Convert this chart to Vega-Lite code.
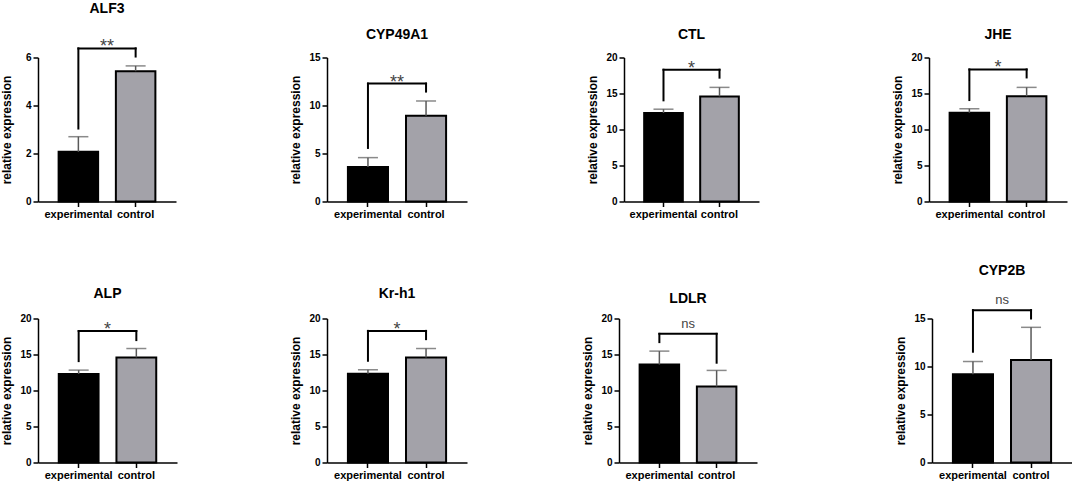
{
  "$schema": "https://vega.github.io/schema/vega-lite/v6.json",
  "padding": {"left": 0, "top": 1.5, "right": 0, "bottom": 0},
  "config": {
    "view": {"stroke": null},
    "font": "Liberation Sans",
    "axis": {"grid": false, "domainColor": "black", "domainWidth": 1.5, "tickColor": "black", "tickWidth": 1.5, "tickSize": 5, "labelColor": "black", "labelFont": "Liberation Sans", "labelFontWeight": "bold", "titleColor": "black", "titleFont": "Liberation Sans", "titleFontWeight": "bold", "titleFontSize": 12},
    "axisX": {"labelFontSize": 11, "labelAngle": 0, "labelPadding": 2},
    "axisY": {"labelFontSize": 10, "labelPadding": 2, "labelOverlap": false},
    "title": {"font": "Liberation Sans", "fontSize": 14, "fontWeight": "bold", "color": "black", "frame": "group", "anchor": "middle"}
  },
  "datasets": {
    "bars": [
      {"gene": "ALF3", "group": "experimental", "mean": 2.07, "upper": 2.7},
      {"gene": "ALF3", "group": "control", "mean": 5.43, "upper": 5.65},
      {"gene": "CYP49A1", "group": "experimental", "mean": 3.6, "upper": 4.57},
      {"gene": "CYP49A1", "group": "control", "mean": 8.92, "upper": 10.47},
      {"gene": "CTL", "group": "experimental", "mean": 12.3, "upper": 12.82},
      {"gene": "CTL", "group": "control", "mean": 14.6, "upper": 15.85},
      {"gene": "JHE", "group": "experimental", "mean": 12.33, "upper": 12.88},
      {"gene": "JHE", "group": "control", "mean": 14.62, "upper": 15.85},
      {"gene": "ALP", "group": "experimental", "mean": 12.3, "upper": 12.83},
      {"gene": "ALP", "group": "control", "mean": 14.6, "upper": 15.83},
      {"gene": "Kr-h1", "group": "experimental", "mean": 12.33, "upper": 12.88},
      {"gene": "Kr-h1", "group": "control", "mean": 14.59, "upper": 15.83},
      {"gene": "LDLR", "group": "experimental", "mean": 13.6, "upper": 15.47},
      {"gene": "LDLR", "group": "control", "mean": 10.57, "upper": 12.79},
      {"gene": "CYP2B", "group": "experimental", "mean": 9.2, "upper": 10.52},
      {"gene": "CYP2B", "group": "control", "mean": 10.68, "upper": 14.08}
    ],
    "legs": [
      {"gene": "ALF3", "group": "experimental", "low": 3.04, "high": 6.38},
      {"gene": "ALF3", "group": "control", "low": 6.04, "high": 6.38},
      {"gene": "CYP49A1", "group": "experimental", "low": 5.58, "high": 12.28},
      {"gene": "CYP49A1", "group": "control", "low": 11.45, "high": 12.28},
      {"gene": "CTL", "group": "experimental", "low": 14.05, "high": 18.3},
      {"gene": "CTL", "group": "control", "low": 17.2, "high": 18.3},
      {"gene": "JHE", "group": "experimental", "low": 14.09, "high": 18.34},
      {"gene": "JHE", "group": "control", "low": 17.23, "high": 18.34},
      {"gene": "ALP", "group": "experimental", "low": 14.08, "high": 18.25},
      {"gene": "ALP", "group": "control", "low": 17.0, "high": 18.25},
      {"gene": "Kr-h1", "group": "experimental", "low": 14.13, "high": 18.28},
      {"gene": "Kr-h1", "group": "control", "low": 17.13, "high": 18.28},
      {"gene": "LDLR", "group": "experimental", "low": 16.72, "high": 17.87},
      {"gene": "LDLR", "group": "control", "low": 13.86, "high": 17.87},
      {"gene": "CYP2B", "group": "experimental", "low": 11.54, "high": 15.87},
      {"gene": "CYP2B", "group": "control", "low": 15.0, "high": 15.87}
    ],
    "brackets": [
      {"gene": "ALF3", "left": "experimental", "right": "control", "high": 6.38, "label": "**"},
      {"gene": "CYP49A1", "left": "experimental", "right": "control", "high": 12.28, "label": "**"},
      {"gene": "CTL", "left": "experimental", "right": "control", "high": 18.3, "label": "*"},
      {"gene": "JHE", "left": "experimental", "right": "control", "high": 18.34, "label": "*"},
      {"gene": "ALP", "left": "experimental", "right": "control", "high": 18.25, "label": "*"},
      {"gene": "Kr-h1", "left": "experimental", "right": "control", "high": 18.28, "label": "*"},
      {"gene": "LDLR", "left": "experimental", "right": "control", "high": 17.87, "label": "ns"},
      {"gene": "CYP2B", "left": "experimental", "right": "control", "high": 15.87, "label": "ns"}
    ]
  },
  "spacing": 44,
  "vconcat": [
    {
      "spacing": 113,
      "hconcat": [
        {
          "width": 138, "height": 144,
          "title": {"text": "ALF3", "offset": 22},
          "layer": [
            {"data": {"name": "bars"}, "transform": [{"filter": "datum.gene === 'ALF3'"}], "mark": {"type": "bar", "stroke": "black", "strokeWidth": 2}, "encoding": {"x": {"field": "group", "type": "nominal", "sort": null, "scale": {"domain": ["experimental", "control"], "paddingInner": 0.31, "paddingOuter": 0.36}, "axis": {"title": null}}, "y": {"field": "mean", "type": "quantitative", "scale": {"domain": [0, 6], "nice": false}, "axis": {"title": "relative expression", "values": [0, 2, 4, 6], "titlePadding": 12}}, "color": {"field": "group", "type": "nominal", "scale": {"domain": ["experimental", "control"], "range": ["#000000", "#a3a2a9"]}, "legend": null}}},
            {"data": {"name": "bars"}, "transform": [{"filter": "datum.gene === 'ALF3'"}], "mark": {"type": "rule", "color": "#595959", "strokeWidth": 1.5}, "encoding": {"x": {"field": "group", "type": "nominal"}, "y": {"field": "mean", "type": "quantitative", "axis": {"title": "relative expression", "values": [0, 2, 4, 6], "titlePadding": 12}}, "y2": {"field": "upper"}}},
            {"data": {"name": "bars"}, "transform": [{"filter": "datum.gene === 'ALF3'"}], "mark": {"type": "tick", "color": "#595959", "size": 20, "thickness": 1.5}, "encoding": {"x": {"field": "group", "type": "nominal"}, "y": {"field": "upper", "type": "quantitative", "axis": {"title": "relative expression", "values": [0, 2, 4, 6], "titlePadding": 12}}}},
            {"data": {"name": "legs"}, "transform": [{"filter": "datum.gene === 'ALF3'"}], "mark": {"type": "rule", "color": "black", "strokeWidth": 2, "strokeCap": "square"}, "encoding": {"x": {"field": "group", "type": "nominal"}, "y": {"field": "low", "type": "quantitative", "axis": {"title": "relative expression", "values": [0, 2, 4, 6], "titlePadding": 12}}, "y2": {"field": "high"}}},
            {"data": {"name": "brackets"}, "transform": [{"filter": "datum.gene === 'ALF3'"}], "mark": {"type": "rule", "color": "black", "strokeWidth": 2, "strokeCap": "square"}, "encoding": {"x": {"field": "left", "type": "nominal"}, "x2": {"field": "right"}, "y": {"field": "high", "type": "quantitative", "axis": {"title": "relative expression", "values": [0, 2, 4, 6], "titlePadding": 12}}}},
            {"data": {"name": "brackets"}, "transform": [{"filter": "datum.gene === 'ALF3'"}], "mark": {"type": "text", "fontSize": 18, "color": "#444444", "baseline": "alphabetic", "dy": 4}, "encoding": {"x": {"field": "left", "type": "nominal", "bandPosition": 1.225}, "y": {"field": "high", "type": "quantitative", "axis": {"title": "relative expression", "values": [0, 2, 4, 6], "titlePadding": 12}}, "text": {"field": "label"}}}
          ]
        },
        {
          "spacing": 119,
          "hconcat": [
            {
              "width": 140, "height": 144,
              "title": {"text": "CYP49A1", "offset": 11},
              "layer": [
                {"data": {"name": "bars"}, "transform": [{"filter": "datum.gene === 'CYP49A1'"}], "mark": {"type": "bar", "stroke": "black", "strokeWidth": 2}, "encoding": {"x": {"field": "group", "type": "nominal", "sort": null, "scale": {"domain": ["experimental", "control"], "paddingInner": 0.31, "paddingOuter": 0.36}, "axis": {"title": null}}, "y": {"field": "mean", "type": "quantitative", "scale": {"domain": [0, 15], "nice": false}, "axis": {"title": "relative expression", "values": [0, 5, 10, 15], "titlePadding": 6.4}}, "color": {"field": "group", "type": "nominal", "scale": {"domain": ["experimental", "control"], "range": ["#000000", "#a3a2a9"]}, "legend": null}}},
                {"data": {"name": "bars"}, "transform": [{"filter": "datum.gene === 'CYP49A1'"}], "mark": {"type": "rule", "color": "#595959", "strokeWidth": 1.5}, "encoding": {"x": {"field": "group", "type": "nominal"}, "y": {"field": "mean", "type": "quantitative", "axis": {"title": "relative expression", "values": [0, 5, 10, 15], "titlePadding": 6.4}}, "y2": {"field": "upper"}}},
                {"data": {"name": "bars"}, "transform": [{"filter": "datum.gene === 'CYP49A1'"}], "mark": {"type": "tick", "color": "#595959", "size": 20, "thickness": 1.5}, "encoding": {"x": {"field": "group", "type": "nominal"}, "y": {"field": "upper", "type": "quantitative", "axis": {"title": "relative expression", "values": [0, 5, 10, 15], "titlePadding": 6.4}}}},
                {"data": {"name": "legs"}, "transform": [{"filter": "datum.gene === 'CYP49A1'"}], "mark": {"type": "rule", "color": "black", "strokeWidth": 2, "strokeCap": "square"}, "encoding": {"x": {"field": "group", "type": "nominal"}, "y": {"field": "low", "type": "quantitative", "axis": {"title": "relative expression", "values": [0, 5, 10, 15], "titlePadding": 6.4}}, "y2": {"field": "high"}}},
                {"data": {"name": "brackets"}, "transform": [{"filter": "datum.gene === 'CYP49A1'"}], "mark": {"type": "rule", "color": "black", "strokeWidth": 2, "strokeCap": "square"}, "encoding": {"x": {"field": "left", "type": "nominal"}, "x2": {"field": "right"}, "y": {"field": "high", "type": "quantitative", "axis": {"title": "relative expression", "values": [0, 5, 10, 15], "titlePadding": 6.4}}}},
                {"data": {"name": "brackets"}, "transform": [{"filter": "datum.gene === 'CYP49A1'"}], "mark": {"type": "text", "fontSize": 18, "color": "#444444", "baseline": "alphabetic", "dy": 4}, "encoding": {"x": {"field": "left", "type": "nominal", "bandPosition": 1.225}, "y": {"field": "high", "type": "quantitative", "axis": {"title": "relative expression", "values": [0, 5, 10, 15], "titlePadding": 6.4}}, "text": {"field": "label"}}}
              ]
            },
            {
              "spacing": 132,
              "hconcat": [
                {
                  "width": 135, "height": 144,
                  "title": {"text": "CTL", "offset": 11},
                  "layer": [
                    {"data": {"name": "bars"}, "transform": [{"filter": "datum.gene === 'CTL'"}], "mark": {"type": "bar", "stroke": "black", "strokeWidth": 2}, "encoding": {"x": {"field": "group", "type": "nominal", "sort": null, "scale": {"domain": ["experimental", "control"], "paddingInner": 0.31, "paddingOuter": 0.36}, "axis": {"title": null}}, "y": {"field": "mean", "type": "quantitative", "scale": {"domain": [0, 20], "nice": false}, "axis": {"title": "relative expression", "values": [0, 5, 10, 15, 20], "titlePadding": 6.4}}, "color": {"field": "group", "type": "nominal", "scale": {"domain": ["experimental", "control"], "range": ["#000000", "#a3a2a9"]}, "legend": null}}},
                    {"data": {"name": "bars"}, "transform": [{"filter": "datum.gene === 'CTL'"}], "mark": {"type": "rule", "color": "#595959", "strokeWidth": 1.5}, "encoding": {"x": {"field": "group", "type": "nominal"}, "y": {"field": "mean", "type": "quantitative", "axis": {"title": "relative expression", "values": [0, 5, 10, 15, 20], "titlePadding": 6.4}}, "y2": {"field": "upper"}}},
                    {"data": {"name": "bars"}, "transform": [{"filter": "datum.gene === 'CTL'"}], "mark": {"type": "tick", "color": "#595959", "size": 20, "thickness": 1.5}, "encoding": {"x": {"field": "group", "type": "nominal"}, "y": {"field": "upper", "type": "quantitative", "axis": {"title": "relative expression", "values": [0, 5, 10, 15, 20], "titlePadding": 6.4}}}},
                    {"data": {"name": "legs"}, "transform": [{"filter": "datum.gene === 'CTL'"}], "mark": {"type": "rule", "color": "black", "strokeWidth": 2, "strokeCap": "square"}, "encoding": {"x": {"field": "group", "type": "nominal"}, "y": {"field": "low", "type": "quantitative", "axis": {"title": "relative expression", "values": [0, 5, 10, 15, 20], "titlePadding": 6.4}}, "y2": {"field": "high"}}},
                    {"data": {"name": "brackets"}, "transform": [{"filter": "datum.gene === 'CTL'"}], "mark": {"type": "rule", "color": "black", "strokeWidth": 2, "strokeCap": "square"}, "encoding": {"x": {"field": "left", "type": "nominal"}, "x2": {"field": "right"}, "y": {"field": "high", "type": "quantitative", "axis": {"title": "relative expression", "values": [0, 5, 10, 15, 20], "titlePadding": 6.4}}}},
                    {"data": {"name": "brackets"}, "transform": [{"filter": "datum.gene === 'CTL'"}], "mark": {"type": "text", "fontSize": 18, "color": "#444444", "baseline": "alphabetic", "dy": 4}, "encoding": {"x": {"field": "left", "type": "nominal", "bandPosition": 1.225}, "y": {"field": "high", "type": "quantitative", "axis": {"title": "relative expression", "values": [0, 5, 10, 15, 20], "titlePadding": 6.4}}, "text": {"field": "label"}}}
                  ]
                },
                {
                  "width": 138, "height": 144,
                  "title": {"text": "JHE", "offset": 11},
                  "layer": [
                    {"data": {"name": "bars"}, "transform": [{"filter": "datum.gene === 'JHE'"}], "mark": {"type": "bar", "stroke": "black", "strokeWidth": 2}, "encoding": {"x": {"field": "group", "type": "nominal", "sort": null, "scale": {"domain": ["experimental", "control"], "paddingInner": 0.31, "paddingOuter": 0.36}, "axis": {"title": null}}, "y": {"field": "mean", "type": "quantitative", "scale": {"domain": [0, 20], "nice": false}, "axis": {"title": "relative expression", "values": [0, 5, 10, 15, 20], "titlePadding": 6.4}}, "color": {"field": "group", "type": "nominal", "scale": {"domain": ["experimental", "control"], "range": ["#000000", "#a3a2a9"]}, "legend": null}}},
                    {"data": {"name": "bars"}, "transform": [{"filter": "datum.gene === 'JHE'"}], "mark": {"type": "rule", "color": "#595959", "strokeWidth": 1.5}, "encoding": {"x": {"field": "group", "type": "nominal"}, "y": {"field": "mean", "type": "quantitative", "axis": {"title": "relative expression", "values": [0, 5, 10, 15, 20], "titlePadding": 6.4}}, "y2": {"field": "upper"}}},
                    {"data": {"name": "bars"}, "transform": [{"filter": "datum.gene === 'JHE'"}], "mark": {"type": "tick", "color": "#595959", "size": 20, "thickness": 1.5}, "encoding": {"x": {"field": "group", "type": "nominal"}, "y": {"field": "upper", "type": "quantitative", "axis": {"title": "relative expression", "values": [0, 5, 10, 15, 20], "titlePadding": 6.4}}}},
                    {"data": {"name": "legs"}, "transform": [{"filter": "datum.gene === 'JHE'"}], "mark": {"type": "rule", "color": "black", "strokeWidth": 2, "strokeCap": "square"}, "encoding": {"x": {"field": "group", "type": "nominal"}, "y": {"field": "low", "type": "quantitative", "axis": {"title": "relative expression", "values": [0, 5, 10, 15, 20], "titlePadding": 6.4}}, "y2": {"field": "high"}}},
                    {"data": {"name": "brackets"}, "transform": [{"filter": "datum.gene === 'JHE'"}], "mark": {"type": "rule", "color": "black", "strokeWidth": 2, "strokeCap": "square"}, "encoding": {"x": {"field": "left", "type": "nominal"}, "x2": {"field": "right"}, "y": {"field": "high", "type": "quantitative", "axis": {"title": "relative expression", "values": [0, 5, 10, 15, 20], "titlePadding": 6.4}}}},
                    {"data": {"name": "brackets"}, "transform": [{"filter": "datum.gene === 'JHE'"}], "mark": {"type": "text", "fontSize": 18, "color": "#444444", "baseline": "alphabetic", "dy": 4}, "encoding": {"x": {"field": "left", "type": "nominal", "bandPosition": 1.225}, "y": {"field": "high", "type": "quantitative", "axis": {"title": "relative expression", "values": [0, 5, 10, 15, 20], "titlePadding": 6.4}}, "text": {"field": "label"}}}
                  ]
                }
              ]
            }
          ]
        }
      ]
    },
    {
      "spacing": 112,
      "hconcat": [
        {
          "width": 139, "height": 144,
          "title": {"text": "ALP", "offset": 13},
          "layer": [
            {"data": {"name": "bars"}, "transform": [{"filter": "datum.gene === 'ALP'"}], "mark": {"type": "bar", "stroke": "black", "strokeWidth": 2}, "encoding": {"x": {"field": "group", "type": "nominal", "sort": null, "scale": {"domain": ["experimental", "control"], "paddingInner": 0.31, "paddingOuter": 0.36}, "axis": {"title": null}}, "y": {"field": "mean", "type": "quantitative", "scale": {"domain": [0, 20], "nice": false}, "axis": {"title": "relative expression", "values": [0, 5, 10, 15, 20], "titlePadding": 6.4}}, "color": {"field": "group", "type": "nominal", "scale": {"domain": ["experimental", "control"], "range": ["#000000", "#a3a2a9"]}, "legend": null}}},
            {"data": {"name": "bars"}, "transform": [{"filter": "datum.gene === 'ALP'"}], "mark": {"type": "rule", "color": "#595959", "strokeWidth": 1.5}, "encoding": {"x": {"field": "group", "type": "nominal"}, "y": {"field": "mean", "type": "quantitative", "axis": {"title": "relative expression", "values": [0, 5, 10, 15, 20], "titlePadding": 6.4}}, "y2": {"field": "upper"}}},
            {"data": {"name": "bars"}, "transform": [{"filter": "datum.gene === 'ALP'"}], "mark": {"type": "tick", "color": "#595959", "size": 20, "thickness": 1.5}, "encoding": {"x": {"field": "group", "type": "nominal"}, "y": {"field": "upper", "type": "quantitative", "axis": {"title": "relative expression", "values": [0, 5, 10, 15, 20], "titlePadding": 6.4}}}},
            {"data": {"name": "legs"}, "transform": [{"filter": "datum.gene === 'ALP'"}], "mark": {"type": "rule", "color": "black", "strokeWidth": 2, "strokeCap": "square"}, "encoding": {"x": {"field": "group", "type": "nominal"}, "y": {"field": "low", "type": "quantitative", "axis": {"title": "relative expression", "values": [0, 5, 10, 15, 20], "titlePadding": 6.4}}, "y2": {"field": "high"}}},
            {"data": {"name": "brackets"}, "transform": [{"filter": "datum.gene === 'ALP'"}], "mark": {"type": "rule", "color": "black", "strokeWidth": 2, "strokeCap": "square"}, "encoding": {"x": {"field": "left", "type": "nominal"}, "x2": {"field": "right"}, "y": {"field": "high", "type": "quantitative", "axis": {"title": "relative expression", "values": [0, 5, 10, 15, 20], "titlePadding": 6.4}}}},
            {"data": {"name": "brackets"}, "transform": [{"filter": "datum.gene === 'ALP'"}], "mark": {"type": "text", "fontSize": 18, "color": "#444444", "baseline": "alphabetic", "dy": 4}, "encoding": {"x": {"field": "left", "type": "nominal", "bandPosition": 1.225}, "y": {"field": "high", "type": "quantitative", "axis": {"title": "relative expression", "values": [0, 5, 10, 15, 20], "titlePadding": 6.4}}, "text": {"field": "label"}}}
          ]
        },
        {
          "spacing": 114,
          "hconcat": [
            {
              "width": 140, "height": 144,
              "title": {"text": "Kr-h1", "offset": 13},
              "layer": [
                {"data": {"name": "bars"}, "transform": [{"filter": "datum.gene === 'Kr-h1'"}], "mark": {"type": "bar", "stroke": "black", "strokeWidth": 2}, "encoding": {"x": {"field": "group", "type": "nominal", "sort": null, "scale": {"domain": ["experimental", "control"], "paddingInner": 0.31, "paddingOuter": 0.36}, "axis": {"title": null}}, "y": {"field": "mean", "type": "quantitative", "scale": {"domain": [0, 20], "nice": false}, "axis": {"title": "relative expression", "values": [0, 5, 10, 15, 20], "titlePadding": 6.4}}, "color": {"field": "group", "type": "nominal", "scale": {"domain": ["experimental", "control"], "range": ["#000000", "#a3a2a9"]}, "legend": null}}},
                {"data": {"name": "bars"}, "transform": [{"filter": "datum.gene === 'Kr-h1'"}], "mark": {"type": "rule", "color": "#595959", "strokeWidth": 1.5}, "encoding": {"x": {"field": "group", "type": "nominal"}, "y": {"field": "mean", "type": "quantitative", "axis": {"title": "relative expression", "values": [0, 5, 10, 15, 20], "titlePadding": 6.4}}, "y2": {"field": "upper"}}},
                {"data": {"name": "bars"}, "transform": [{"filter": "datum.gene === 'Kr-h1'"}], "mark": {"type": "tick", "color": "#595959", "size": 20, "thickness": 1.5}, "encoding": {"x": {"field": "group", "type": "nominal"}, "y": {"field": "upper", "type": "quantitative", "axis": {"title": "relative expression", "values": [0, 5, 10, 15, 20], "titlePadding": 6.4}}}},
                {"data": {"name": "legs"}, "transform": [{"filter": "datum.gene === 'Kr-h1'"}], "mark": {"type": "rule", "color": "black", "strokeWidth": 2, "strokeCap": "square"}, "encoding": {"x": {"field": "group", "type": "nominal"}, "y": {"field": "low", "type": "quantitative", "axis": {"title": "relative expression", "values": [0, 5, 10, 15, 20], "titlePadding": 6.4}}, "y2": {"field": "high"}}},
                {"data": {"name": "brackets"}, "transform": [{"filter": "datum.gene === 'Kr-h1'"}], "mark": {"type": "rule", "color": "black", "strokeWidth": 2, "strokeCap": "square"}, "encoding": {"x": {"field": "left", "type": "nominal"}, "x2": {"field": "right"}, "y": {"field": "high", "type": "quantitative", "axis": {"title": "relative expression", "values": [0, 5, 10, 15, 20], "titlePadding": 6.4}}}},
                {"data": {"name": "brackets"}, "transform": [{"filter": "datum.gene === 'Kr-h1'"}], "mark": {"type": "text", "fontSize": 18, "color": "#444444", "baseline": "alphabetic", "dy": 4}, "encoding": {"x": {"field": "left", "type": "nominal", "bandPosition": 1.225}, "y": {"field": "high", "type": "quantitative", "axis": {"title": "relative expression", "values": [0, 5, 10, 15, 20], "titlePadding": 6.4}}, "text": {"field": "label"}}}
              ]
            },
            {
              "spacing": 137,
              "hconcat": [
                {
                  "width": 138, "height": 144,
                  "title": {"text": "LDLR", "offset": 8},
                  "layer": [
                    {"data": {"name": "bars"}, "transform": [{"filter": "datum.gene === 'LDLR'"}], "mark": {"type": "bar", "stroke": "black", "strokeWidth": 2}, "encoding": {"x": {"field": "group", "type": "nominal", "sort": null, "scale": {"domain": ["experimental", "control"], "paddingInner": 0.31, "paddingOuter": 0.36}, "axis": {"title": null}}, "y": {"field": "mean", "type": "quantitative", "scale": {"domain": [0, 20], "nice": false}, "axis": {"title": "relative expression", "values": [0, 5, 10, 15, 20], "titlePadding": 6.4}}, "color": {"field": "group", "type": "nominal", "scale": {"domain": ["experimental", "control"], "range": ["#000000", "#a3a2a9"]}, "legend": null}}},
                    {"data": {"name": "bars"}, "transform": [{"filter": "datum.gene === 'LDLR'"}], "mark": {"type": "rule", "color": "#595959", "strokeWidth": 1.5}, "encoding": {"x": {"field": "group", "type": "nominal"}, "y": {"field": "mean", "type": "quantitative", "axis": {"title": "relative expression", "values": [0, 5, 10, 15, 20], "titlePadding": 6.4}}, "y2": {"field": "upper"}}},
                    {"data": {"name": "bars"}, "transform": [{"filter": "datum.gene === 'LDLR'"}], "mark": {"type": "tick", "color": "#595959", "size": 20, "thickness": 1.5}, "encoding": {"x": {"field": "group", "type": "nominal"}, "y": {"field": "upper", "type": "quantitative", "axis": {"title": "relative expression", "values": [0, 5, 10, 15, 20], "titlePadding": 6.4}}}},
                    {"data": {"name": "legs"}, "transform": [{"filter": "datum.gene === 'LDLR'"}], "mark": {"type": "rule", "color": "black", "strokeWidth": 2, "strokeCap": "square"}, "encoding": {"x": {"field": "group", "type": "nominal"}, "y": {"field": "low", "type": "quantitative", "axis": {"title": "relative expression", "values": [0, 5, 10, 15, 20], "titlePadding": 6.4}}, "y2": {"field": "high"}}},
                    {"data": {"name": "brackets"}, "transform": [{"filter": "datum.gene === 'LDLR'"}], "mark": {"type": "rule", "color": "black", "strokeWidth": 2, "strokeCap": "square"}, "encoding": {"x": {"field": "left", "type": "nominal"}, "x2": {"field": "right"}, "y": {"field": "high", "type": "quantitative", "axis": {"title": "relative expression", "values": [0, 5, 10, 15, 20], "titlePadding": 6.4}}}},
                    {"data": {"name": "brackets"}, "transform": [{"filter": "datum.gene === 'LDLR'"}], "mark": {"type": "text", "fontSize": 13, "color": "#444444", "baseline": "alphabetic", "dy": -6}, "encoding": {"x": {"field": "left", "type": "nominal", "bandPosition": 1.225}, "y": {"field": "high", "type": "quantitative", "axis": {"title": "relative expression", "values": [0, 5, 10, 15, 20], "titlePadding": 6.4}}, "text": {"field": "label"}}}
                  ]
                },
                {
                  "width": 140, "height": 144,
                  "title": {"text": "CYP2B", "offset": 16},
                  "layer": [
                    {"data": {"name": "bars"}, "transform": [{"filter": "datum.gene === 'CYP2B'"}], "mark": {"type": "bar", "stroke": "black", "strokeWidth": 2}, "encoding": {"x": {"field": "group", "type": "nominal", "sort": null, "scale": {"domain": ["experimental", "control"], "paddingInner": 0.31, "paddingOuter": 0.36}, "axis": {"title": null}}, "y": {"field": "mean", "type": "quantitative", "scale": {"domain": [0, 15], "nice": false}, "axis": {"title": "relative expression", "values": [0, 5, 10, 15], "titlePadding": 6.4}}, "color": {"field": "group", "type": "nominal", "scale": {"domain": ["experimental", "control"], "range": ["#000000", "#a3a2a9"]}, "legend": null}}},
                    {"data": {"name": "bars"}, "transform": [{"filter": "datum.gene === 'CYP2B'"}], "mark": {"type": "rule", "color": "#595959", "strokeWidth": 1.5}, "encoding": {"x": {"field": "group", "type": "nominal"}, "y": {"field": "mean", "type": "quantitative", "axis": {"title": "relative expression", "values": [0, 5, 10, 15], "titlePadding": 6.4}}, "y2": {"field": "upper"}}},
                    {"data": {"name": "bars"}, "transform": [{"filter": "datum.gene === 'CYP2B'"}], "mark": {"type": "tick", "color": "#595959", "size": 20, "thickness": 1.5}, "encoding": {"x": {"field": "group", "type": "nominal"}, "y": {"field": "upper", "type": "quantitative", "axis": {"title": "relative expression", "values": [0, 5, 10, 15], "titlePadding": 6.4}}}},
                    {"data": {"name": "legs"}, "transform": [{"filter": "datum.gene === 'CYP2B'"}], "mark": {"type": "rule", "color": "black", "strokeWidth": 2, "strokeCap": "square"}, "encoding": {"x": {"field": "group", "type": "nominal"}, "y": {"field": "low", "type": "quantitative", "axis": {"title": "relative expression", "values": [0, 5, 10, 15], "titlePadding": 6.4}}, "y2": {"field": "high"}}},
                    {"data": {"name": "brackets"}, "transform": [{"filter": "datum.gene === 'CYP2B'"}], "mark": {"type": "rule", "color": "black", "strokeWidth": 2, "strokeCap": "square"}, "encoding": {"x": {"field": "left", "type": "nominal"}, "x2": {"field": "right"}, "y": {"field": "high", "type": "quantitative", "axis": {"title": "relative expression", "values": [0, 5, 10, 15], "titlePadding": 6.4}}}},
                    {"data": {"name": "brackets"}, "transform": [{"filter": "datum.gene === 'CYP2B'"}], "mark": {"type": "text", "fontSize": 13, "color": "#444444", "baseline": "alphabetic", "dy": -6}, "encoding": {"x": {"field": "left", "type": "nominal", "bandPosition": 1.225}, "y": {"field": "high", "type": "quantitative", "axis": {"title": "relative expression", "values": [0, 5, 10, 15], "titlePadding": 6.4}}, "text": {"field": "label"}}}
                  ]
                }
              ]
            }
          ]
        }
      ]
    }
  ]
}
